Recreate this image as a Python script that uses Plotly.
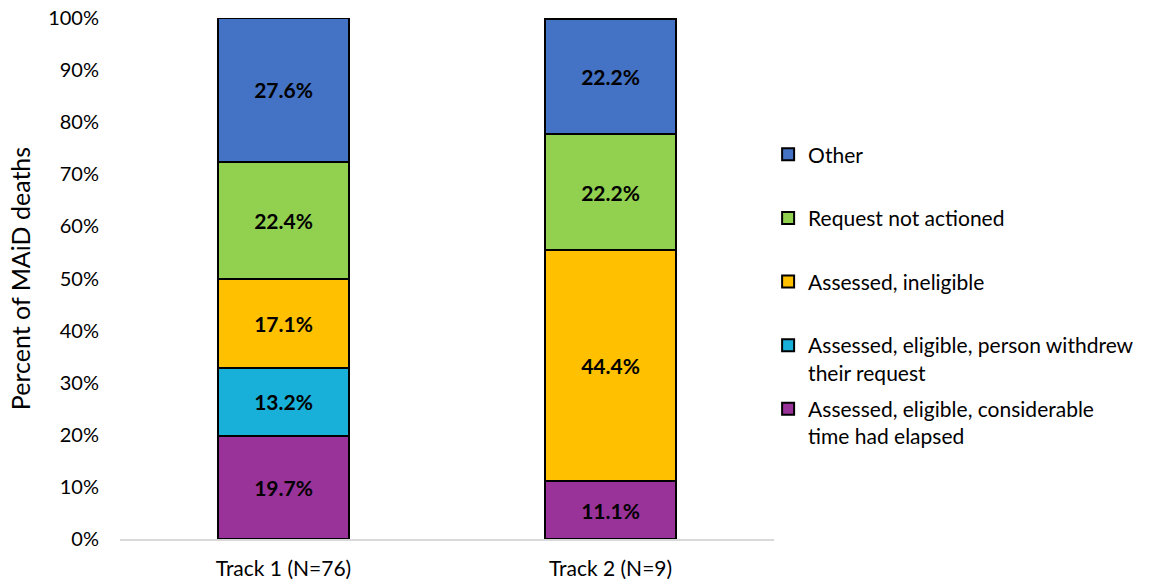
import plotly.graph_objects as go

# Categories and stacked shares (%), bottom segment first
tracks = ["Track 1 (N=76)", "Track 2 (N=9)"]
series_names = [
    "Assessed, eligible, considerable<br>time had elapsed",
    "Assessed, eligible, person withdrew<br>their request",
    "Assessed, ineligible",
    "Request not actioned",
    "Other",
]
considerable_time = [19.7, 11.1]
person_withdrew = [13.2, 0.0]
ineligible = [17.1, 44.4]
not_actioned = [22.4, 22.2]
other = [27.6, 22.2]
series_values = [considerable_time, person_withdrew, ineligible, not_actioned, other]
series_colors = ["#993399", "#18B0D8", "#FFC000", "#92D050", "#4472C4"]

y_ticks = list(range(0, 101, 10))
y_tick_labels = [f"{t}%" for t in y_ticks]

FONT = "Lato, 'Open Sans', sans-serif"

fig = go.Figure()
n_series = len(series_names)
for i, (name, vals, color) in enumerate(zip(series_names, series_values, series_colors)):
    # pad single-line legend entries so every entry occupies two lines
    legend_name = name if "<br>" in name else name + "<br>\u00a0"
    fig.add_trace(go.Bar(
        x=tracks,
        y=vals,
        name=legend_name,
        legendgroup=f"g{i}",
        legendrank=n_series - i,  # top segment listed first
        marker=dict(color=color, line=dict(color="#000000", width=2)),
        text=[f"{v:.1f}%" if v > 0 else "" for v in vals],
        textposition="inside",
        insidetextanchor="middle",
        textangle=0,
        textfont=dict(family=FONT, size=21, color="#000000", weight="bold"),
        width=0.4,
        hoverinfo="skip",
    ))

fig.update_layout(
    barmode="stack",
    width=1158,
    height=582,
    margin=dict(l=120, r=384, t=18, b=43, autoexpand=False),
    paper_bgcolor="#FFFFFF",
    plot_bgcolor="#FFFFFF",
    font=dict(family=FONT, size=20, color="#000000"),
    showlegend=True,
    uniformtext=dict(minsize=21, mode="show"),
    legend=dict(
        x=0.991, xanchor="left",
        y=0.777, yanchor="top",
        traceorder="grouped",
        valign="top",
        tracegroupgap=6,
        itemwidth=30,
        font=dict(family=FONT, size=21, color="#000000"),
        bgcolor="rgba(0,0,0,0)",
    ),
    bargap=0.6,
)
fig.update_xaxes(
    automargin=False,
    showgrid=False,
    showline=True,
    linecolor="#D9D9D9",
    linewidth=2,
    ticks="",
    ticklabelstandoff=10,
    tickfont=dict(family=FONT, size=21, color="#000000"),
)
fig.update_yaxes(
    automargin=False,
    range=[0, 100],
    tickvals=y_ticks,
    ticktext=y_tick_labels,
    showgrid=False,
    zeroline=False,
    showline=False,
    ticks="",
    ticklabelstandoff=20,
    tickfont=dict(family=FONT, size=20, color="#000000"),
    title=dict(text="Percent of MAiD deaths", font=dict(family=FONT, size=25, color="#000000"), standoff=10),
)

fig.write_html("out.html")
